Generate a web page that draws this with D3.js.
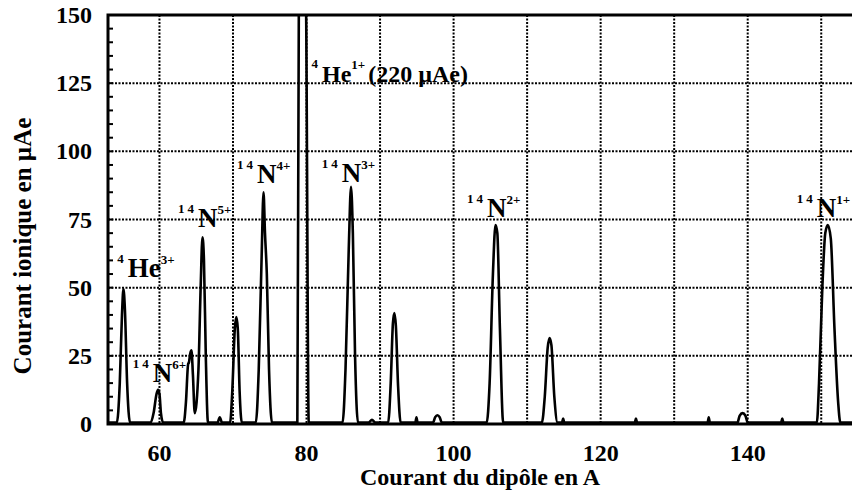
<!DOCTYPE html>
<html>
<head>
<meta charset="utf-8">
<script src="https://cdn.jsdelivr.net/npm/d3@7"></script>
<style>
  body { margin: 0; background: #fff; }
  text { font-family: "Liberation Serif", "Times New Roman", serif; font-weight: bold; fill: #000; }
</style>
</head>
<body>
<script>
// Trace : courant du dipôle (A) et courant ionique (µAe)
let current = [
  53, 54.2, 54.6, 54.9, 55.1, 55.3, 55.6, 56.0,
  58.8, 59.2, 59.6, 59.8, 60.0, 60.2, 60.5,
  63.3, 63.6, 63.9, 64.0, 64.2, 64.35, 64.55, 64.8,
  65.3, 65.6, 65.85, 66.05, 66.3, 66.6,
  67.9, 68.2, 68.5,
  69.6, 69.9, 70.25, 70.45, 70.65, 70.9, 71.2,
  73.1, 73.5, 73.9, 74.15, 74.35, 74.6, 74.9, 75.3,
  78.75, 78.95, 79.45, 79.95, 80.3,
  84.9, 85.3, 85.75, 86.05, 86.3, 86.6, 87.0,
  88.4, 88.9, 89.4,
  91.1, 91.45, 91.75, 91.95, 92.15, 92.45, 92.8,
  94.8, 94.95, 95.1,
  97.2, 97.5, 97.8, 98.1, 98.4,
  104.5, 104.9, 105.35, 105.7, 105.95, 106.3, 106.75,
  112.0, 112.4, 112.8, 113.05, 113.3, 113.7, 114.15,
  114.75, 114.9, 115.05,
  124.65, 124.8, 124.95,
  134.55, 134.7, 134.85,
  138.6, 138.9, 139.3, 139.7, 140.0,
  144.55, 144.7, 144.85,
  149.4, 149.7, 150.15, 150.55, 150.9, 151.3, 151.8, 152.3, 152.6, 155.5
];
let intensity = [
  0.5, 0.5, 15, 40, 49.5, 42, 15, 0.5,
  0.5, 4, 11, 12.5, 11, 4, 0.5,
  0.5, 8, 22, 22.5, 26, 27, 18, 4,
  20, 50, 68.5, 60, 25, 0.5,
  0.5, 2.5, 0.5,
  0.5, 12, 35, 39.2, 35, 12, 0.5,
  0.5, 20, 62, 85, 70, 55, 20, 0.5,
  0.5, 150, 220, 150, 0.5,
  0.5, 20, 65, 87, 70, 25, 0.5,
  0.5, 1.5, 0.5,
  0.5, 15, 37, 40.7, 36, 14, 0.5,
  0.5, 2.5, 0.5,
  0.5, 2.5, 3.2, 2.5, 0.5,
  0.5, 15, 55, 73, 70, 35, 0.5,
  0.5, 10, 28, 31.5, 29, 10, 0.5,
  0.5, 2, 0.5,
  0.5, 2, 0.5,
  0.5, 2.5, 0.5,
  0.5, 3, 4, 3, 0.5,
  0.5, 2, 0.5,
  0.5, 15, 50, 70, 73, 68, 35, 8, 0.5, 0.5
];

let xTicks = [60, 80, 100, 120, 140];
let xGrid = [60, 70, 80, 90, 100, 110, 120, 130, 140, 150];
let yTicks = [0, 25, 50, 75, 100, 125, 150];

// étiquettes des pics
let labelPre = ["4", "14", "14", "14", "4", "14", "14", "14"];
let labelMain = ["He", "N", "N", "N", "He", "N", "N", "N"];
let labelPost = ["3+", "6+", "5+", "4+", "1+", "3+", "2+", "1+"];
let labelNote = ["", "", "", "", "(220 µAe)", "", "", ""];
let labelCurrent = [55.7, 59.1, 65.25, 73.25, 82.1, 84.8, 104.55, 149.4];
let labelLevel = [53.9, 15.4, 72.2, 88.4, 125.4, 88.7, 75.9, 75.9];

let width = 852, height = 497;
let plotLeft = 108, plotTop = 15, plotRight = 858, plotBottom = 424;

let svg = d3.select("body").append("svg")
  .attr("width", width)
  .attr("height", height);

let x = d3.scaleLinear().domain([53, 155]).range([plotLeft, plotRight]);
let y = d3.scaleLinear().domain([0, 150]).range([plotBottom, plotTop]);

svg.append("clipPath")
  .attr("id", "plot")
  .append("rect")
  .attr("x", plotLeft)
  .attr("y", plotTop)
  .attr("width", plotRight - plotLeft)
  .attr("height", plotBottom - plotTop);

// grille pointillée
svg.append("g")
  .selectAll("line")
  .data(xGrid)
  .join("line")
  .attr("x1", d => x(d))
  .attr("x2", d => x(d))
  .attr("y1", plotTop)
  .attr("y2", plotBottom)
  .attr("stroke", "#000")
  .attr("stroke-width", 2)
  .attr("stroke-dasharray", "2,1.5");

svg.append("g")
  .selectAll("line")
  .data(yTicks.slice(1, -1))
  .join("line")
  .attr("x1", plotLeft)
  .attr("x2", plotRight)
  .attr("y1", d => y(d))
  .attr("y2", d => y(d))
  .attr("stroke", "#000")
  .attr("stroke-width", 2)
  .attr("stroke-dasharray", "2,1.5");

// petites graduations sur l'axe vertical
svg.append("g")
  .selectAll("line")
  .data(y.ticks(30))
  .join("line")
  .attr("x1", plotLeft)
  .attr("x2", plotLeft + 5)
  .attr("y1", d => y(d))
  .attr("y2", d => y(d))
  .attr("stroke", "#000")
  .attr("stroke-width", 2);

// trace
let line = d3.line()
  .x((d, i) => x(current[i]))
  .y(d => y(d))
  .curve(d3.curveMonotoneX);

svg.append("path")
  .datum(intensity)
  .attr("clip-path", "url(#plot)")
  .attr("d", line)
  .attr("fill", "none")
  .attr("stroke", "#000")
  .attr("stroke-width", 2.6)
  .attr("stroke-linejoin", "round");

// cadre
svg.append("path")
  .attr("d", `M${plotRight},${plotTop}H${plotLeft}V${plotBottom}H${plotRight}`)
  .attr("fill", "none")
  .attr("stroke", "#000")
  .attr("stroke-width", 3);

// libellés des axes
svg.append("g")
  .selectAll("text")
  .data(xTicks)
  .join("text")
  .attr("x", d => x(d))
  .attr("y", 461)
  .attr("text-anchor", "middle")
  .style("font-size", "24px")
  .text(d => d);

svg.append("g")
  .selectAll("text")
  .data(yTicks)
  .join("text")
  .attr("x", 92)
  .attr("y", d => y(d) + 8)
  .attr("text-anchor", "end")
  .style("font-size", "24px")
  .text(d => d);

svg.append("text")
  .attr("x", 480)
  .attr("y", 485)
  .attr("text-anchor", "middle")
  .style("font-size", "24px")
  .text("Courant du dipôle en A");

svg.append("text")
  .attr("transform", "translate(31,246) rotate(-90)")
  .attr("text-anchor", "middle")
  .style("font-size", "25px")
  .text("Courant ionique en µAe");

// étiquettes des ions
let labels = svg.append("g")
  .selectAll("g")
  .data(labelMain)
  .join("g")
  .attr("transform", (d, i) => `translate(${x(labelCurrent[i])},${y(labelLevel[i])})`);

labels.append("text")
  .attr("x", -1)
  .attr("y", -14)
  .attr("text-anchor", "end")
  .style("font-size", "13px")
  .style("letter-spacing", "3px")
  .text((d, i) => labelPre[i]);

let main = labels.append("text")
  .style("font-size", (d, i) => labelNote[i] ? "24px" : "27px");

main.append("tspan")
  .text(d => d);

main.append("tspan")
  .attr("dy", -13)
  .style("font-size", "13px")
  .text((d, i) => labelPost[i]);

main.append("tspan")
  .attr("dy", 13)
  .attr("dx", 3)
  .text((d, i) => labelNote[i]);
</script>
</body>
</html>
